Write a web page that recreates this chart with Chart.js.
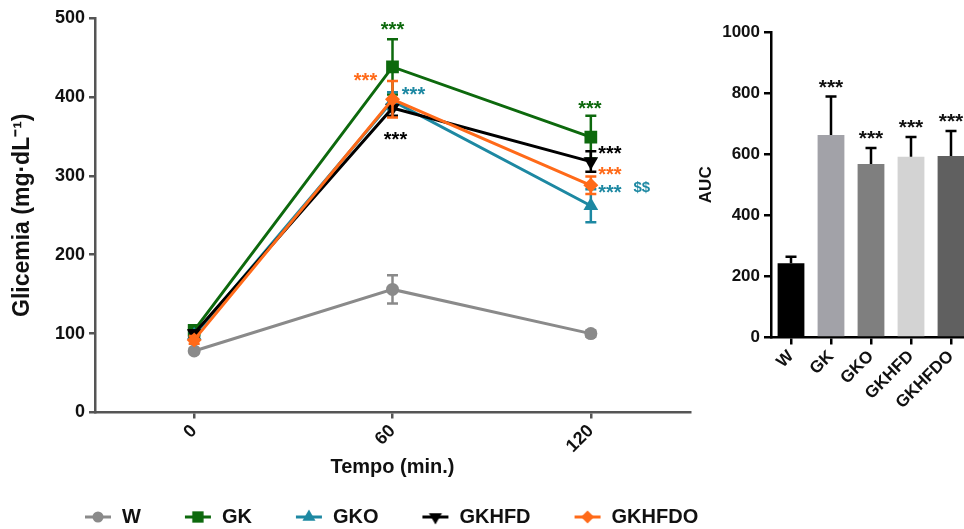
<!DOCTYPE html>
<html>
<head>
<meta charset="utf-8">
<script src="https://cdn.jsdelivr.net/npm/chart.js@4.4.0/dist/chart.umd.min.js"></script>
<style>
    html, body { margin: 0; padding: 0; background: #fff; overflow: hidden; width: 964px; height: 529px; }
    #left { position: absolute; left: 0; top: 0; width: 760px; height: 537px; }
    #right { position: absolute; left: 690px; top: 0; width: 300px; height: 529px; }
</style>
</head>
<body>
<div id="left"><canvas id="glyc-chart"></canvas></div>
<div id="right"><canvas id="auc-chart"></canvas></div>
<script>
// tempos da curva (min.)
const times = [0, 60, 120];
const timeTicks = [0, 60, 120];
const glycTicks = [0, 100, 200, 300, 400, 500];
const groups = ['W', 'GK', 'GKO', 'GKHFD', 'GKHFDO'];

// glicemia média e erro padrão por grupo
const wMean = [78, 156, 100];
const wErr = [3, 18, 4];
const gkMean = [104, 438, 349];
const gkErr = [4, 35, 27];
const gkoMean = [98, 395, 262];
const gkoErr = [4, 11, 21];
const gkhfdMean = [100, 386, 318];
const gkhfdErr = [4, 10, 13];
const gkhfdoMean = [92, 397, 288];
const gkhfdoErr = [5, 23, 11];

// área sob a curva
const aucMean = [243, 663, 568, 592, 594];
const aucErr = [21, 126, 52, 64, 82];
const aucTicks = [0, 200, 400, 600, 800, 1000];
const aucStars = ['', '***', '***', '***', '***'];

// anotações de significância na curva
const notes = [
    { group: 'GK', time: 60, text: '***', dx: 0, dy: -43 },
    { group: 'GKHFDO', time: 60, text: '***', dx: -27, dy: -24 },
    { group: 'GKO', time: 60, text: '***', dx: 21, dy: -11 },
    { group: 'GKHFD', time: 60, text: '***', dx: 3, dy: 26 },
    { group: 'GK', time: 120, text: '***', dx: -1, dy: -34 },
    { group: 'GKHFD', time: 120, text: '***', dx: 19, dy: -13 },
    { group: 'GKHFDO', time: 120, text: '***', dx: 19, dy: -16 },
    { group: 'GKO', time: 120, text: '***', dx: 19, dy: -18 },
    { group: 'GKO', time: 120, text: '$$', dx: 51, dy: -18 }
];

const means = [wMean, gkMean, gkoMean, gkhfdMean, gkhfdoMean];
const errs = [wErr, gkErr, gkoErr, gkhfdErr, gkhfdoErr];
const colors = ['#8a8a8a', '#0d690d', '#1d88a2', '#000000', '#ff6a19'];
const styles = ['circle', 'rect', 'triangle', 'triangle', 'rectRot'];
const rotations = [0, 0, 0, 180, 0];
const radii = [6.5, 9, 8.5, 8.5, 7.5];
const drawOrder = [4, 3, 2, 1, 0];
const barColors = ['#000000', '#a2a2a8', '#7f7f7f', '#d3d3d3', '#606060'];

const FONT = '"Liberation Sans", Arial, sans-serif';
const axisGray = '#555555';

function legendIcon(i) {
    const c = document.createElement('canvas');
    c.width = 28;
    c.height = 16;
    const g = c.getContext('2d');
    g.strokeStyle = colors[i];
    g.lineWidth = 3;
    g.beginPath();
    g.moveTo(1, 8);
    g.lineTo(27, 8);
    g.stroke();
    g.fillStyle = colors[i];
    Chart.helpers.drawPoint(g, { pointStyle: styles[i], radius: radii[i] - 1, rotation: rotations[i], borderWidth: 0 }, 14, 8);
    return c;
}

function drawStars(ctx, text, x, cy, size, color) {
    ctx.save();
    ctx.fillStyle = color;
    ctx.font = 'bold ' + size + 'px ' + FONT;
    ctx.textAlign = 'center';
    if (text.includes('*')) {
        ctx.textBaseline = 'alphabetic';
        ctx.fillText(text, x, cy + size * 0.58);
    } else {
        ctx.textBaseline = 'middle';
        ctx.fillText(text, x, cy);
    }
    ctx.restore();
}

// barras de erro desenhadas por baixo dos marcadores
const lineErrorBars = {
    id: 'lineErrorBars',
    beforeDatasetDraw(chart, args) {
        const i = args.index;
        const y = chart.scales.y;
        const ctx = chart.ctx;
        ctx.save();
        ctx.strokeStyle = colors[i];
        ctx.lineWidth = 2.5;
        args.meta.data.forEach((pt, k) => {
            const top = y.getPixelForValue(means[i][k] + errs[i][k]);
            const bot = y.getPixelForValue(means[i][k] - errs[i][k]);
            ctx.beginPath();
            ctx.moveTo(pt.x, top); ctx.lineTo(pt.x, bot);
            ctx.moveTo(pt.x - 5.5, top); ctx.lineTo(pt.x + 5.5, top);
            ctx.moveTo(pt.x - 5.5, bot); ctx.lineTo(pt.x + 5.5, bot);
            ctx.stroke();
        });
        ctx.restore();
    },
    afterDatasetsDraw(chart) {
        const ctx = chart.ctx;
        notes.forEach(n => {
            const gi = groups.indexOf(n.group);
            const k = times.indexOf(n.time);
            const px = chart.scales.x.getPixelForValue(n.time);
            const py = chart.scales.y.getPixelForValue(means[gi][k]);
            drawStars(ctx, n.text, px + n.dx, py + n.dy, n.text.includes('*') ? 20 : 15, colors[gi]);
        });
    }
};

new Chart(document.getElementById('glyc-chart'), {
    type: 'line',
    data: {
        datasets: groups.map((g, i) => ({
            label: g,
            data: times.map((t, k) => ({ x: t, y: means[i][k] })),
            borderColor: colors[i],
            backgroundColor: colors[i],
            borderWidth: 3,
            pointStyle: styles[i],
            rotation: rotations[i],
            pointRadius: radii[i],
            pointBorderWidth: 0,
            order: drawOrder[i],
            tension: 0
        }))
    },
    options: {
        responsive: true,
        maintainAspectRatio: false,
        animation: false,
        events: [],
        layout: { padding: { left: 41, top: 18, right: 0, bottom: 0 } },
        scales: {
            x: {
                type: 'linear',
                min: -30,
                max: 150,
                afterBuildTicks: s => { s.ticks = timeTicks.map(v => ({ value: v })); },
                afterFit: s => { s.height = 51.5; },
                ticks: { color: '#111', font: { family: FONT, size: 18, weight: 'bold' }, minRotation: 45, maxRotation: 45, padding: 2 },
                grid: { drawOnChartArea: false, drawTicks: true, tickLength: 6, color: axisGray, lineWidth: 2.5 },
                border: { color: axisGray, width: 2.5 },
                title: { display: true, text: 'Tempo (min.)', color: '#111', font: { family: FONT, size: 20, weight: 'bold' }, padding: { top: 0, bottom: -15 } }
            },
            y: {
                min: 0,
                max: 500,
                afterBuildTicks: s => { s.ticks = glycTicks.map(v => ({ value: v })); },
                afterFit: s => { s.width = 54; },
                ticks: { color: '#111', font: { family: FONT, size: 18, weight: 'bold' }, padding: 4, callback: v => String(v) },
                grid: { drawOnChartArea: false, drawTicks: true, tickLength: 6, color: axisGray, lineWidth: 2.5 },
                border: { color: axisGray, width: 2.5 },
                title: { display: true, text: 'Glicemia (mg·dL⁻¹)', color: '#111', font: { family: FONT, size: 23, weight: 'bold' }, padding: { top: -32, bottom: 0 } }
            },
            yR: {
                position: 'right',
                display: true,
                afterFit: s => { s.width = 70; },
                ticks: { display: false },
                grid: { display: false },
                border: { display: false }
            }
        },
        plugins: {
            legend: {
                position: 'bottom',
                align: 'start',
                labels: {
                    usePointStyle: true,
                    pointStyleWidth: 28,
                    padding: 43,
                    color: '#111',
                    font: { family: FONT, size: 20, weight: 'bold' },
                    generateLabels: () => groups.map((g, i) => ({
                        text: g,
                        pointStyle: legendIcon(i),
                        fillStyle: colors[i],
                        strokeStyle: colors[i],
                        lineWidth: 0,
                        hidden: false,
                        datasetIndex: i,
                        fontColor: '#111'
                    }))
                }
            },
            tooltip: { enabled: false }
        }
    },
    plugins: [lineErrorBars]
});

// barras de erro (só para cima) e asteriscos do AUC
const barErrorBars = {
    id: 'barErrorBars',
    afterDatasetsDraw(chart) {
        const ctx = chart.ctx;
        const y = chart.scales.y;
        const meta = chart.getDatasetMeta(0);
        ctx.save();
        ctx.strokeStyle = '#000';
        ctx.lineWidth = 2.5;
        meta.data.forEach((bar, k) => {
            const base = y.getPixelForValue(aucMean[k]);
            const top = y.getPixelForValue(aucMean[k] + aucErr[k]);
            ctx.beginPath();
            ctx.moveTo(bar.x, base); ctx.lineTo(bar.x, top);
            ctx.moveTo(bar.x - 5.5, top); ctx.lineTo(bar.x + 5.5, top);
            ctx.stroke();
            if (aucStars[k]) drawStars(ctx, aucStars[k], bar.x, top - 15, 21, '#111');
        });
        ctx.restore();
    }
};

new Chart(document.getElementById('auc-chart'), {
    type: 'bar',
    data: {
        labels: groups,
        datasets: [{
            label: 'AUC',
            data: aucMean,
            backgroundColor: barColors,
            borderWidth: 0,
            barPercentage: 0.67,
            categoryPercentage: 1
        }]
    },
    options: {
        responsive: true,
        maintainAspectRatio: false,
        animation: false,
        events: [],
        layout: { padding: { left: 0, top: 32, right: 19, bottom: 0 } },
        scales: {
            x: {
                afterFit: s => { s.height = 191.5; },
                ticks: { color: '#111', font: { family: FONT, size: 17, weight: 'bold' }, minRotation: 45, maxRotation: 45, padding: 2 },
                grid: { offset: false, drawOnChartArea: false, drawTicks: true, tickLength: 7, color: '#000', lineWidth: 2.5 },
                border: { color: '#000', width: 2.5 }
            },
            y: {
                min: 0,
                max: 1000,
                afterBuildTicks: s => { s.ticks = aucTicks.map(v => ({ value: v })); },
                afterFit: s => { s.width = 81; },
                ticks: { color: '#111', font: { family: FONT, size: 17, weight: 'bold' }, padding: 4, callback: v => String(v) },
                grid: { drawOnChartArea: false, drawTicks: true, tickLength: 7, color: '#000', lineWidth: 2.5 },
                border: { color: '#000', width: 2.5 },
                title: { display: true, text: 'AUC', color: '#111', font: { family: FONT, size: 17, weight: 'bold' }, padding: { top: 6, bottom: 0 } }
            }
        },
        plugins: {
            legend: { display: false },
            tooltip: { enabled: false }
        }
    },
    plugins: [barErrorBars]
});
</script>
</body>
</html>
